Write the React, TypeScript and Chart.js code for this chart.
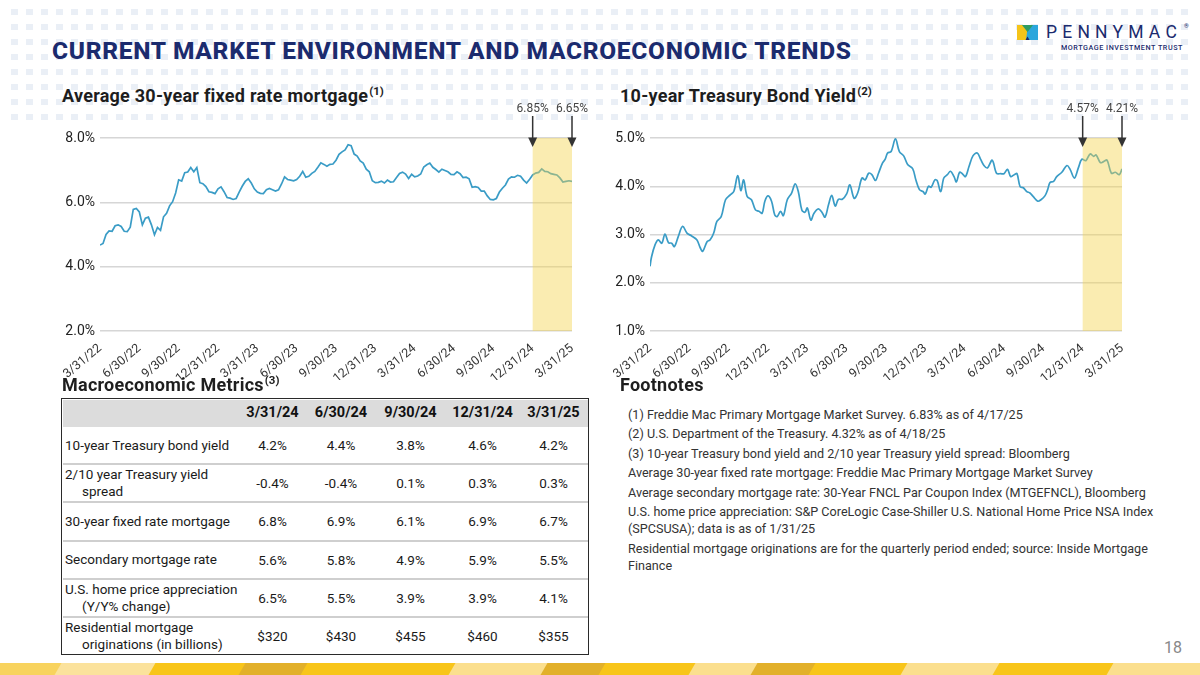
import React, { useEffect, useRef } from "react";
import { Chart, registerables } from "chart.js";

Chart.register(...registerables);

// ---------------- DATA ----------------
const QUARTER_LABELS = [
  "3/31/22", "6/30/22", "9/30/22", "12/31/22", "3/31/23", "6/30/23", "9/30/23",
  "12/31/23", "3/31/24", "6/30/24", "9/30/24", "12/31/24", "3/31/25",
];

// Weekly average 30-year fixed rate mortgage (%), 3/31/22 .. 3/27/25 (one value per week)
const MORTGAGE_RATE = [
  4.67, 4.72, 5.0, 5.11, 5.1, 5.27, 5.3, 5.25, 5.1, 5.09, 5.23, 5.78, 5.81, 5.7, 5.3, 5.51, 5.54, 5.3, 4.99, 5.22,
  5.13, 5.55, 5.66, 5.89, 6.02, 6.29, 6.7, 6.66, 6.92, 6.94, 7.08, 6.95, 7.08, 6.61, 6.58, 6.49, 6.33, 6.31, 6.27, 6.42,
  6.48, 6.33, 6.15, 6.13, 6.09, 6.12, 6.32, 6.5, 6.65, 6.73, 6.6, 6.42, 6.32, 6.28, 6.27, 6.39, 6.43, 6.39, 6.35, 6.39,
  6.57, 6.79, 6.71, 6.69, 6.67, 6.71, 6.81, 6.96, 6.78, 6.81, 6.9, 6.96, 7.09, 7.23, 7.18, 7.12, 7.18, 7.19, 7.31, 7.49,
  7.57, 7.63, 7.79, 7.76, 7.5, 7.44, 7.29, 7.22, 7.03, 6.95, 6.67, 6.61, 6.62, 6.66, 6.6, 6.69, 6.63, 6.64, 6.77, 6.9,
  6.94, 6.88, 6.74, 6.87, 6.79, 6.82, 6.88, 7.1, 7.17, 7.22, 7.09, 7.02, 6.94, 7.03, 6.99, 6.95, 6.87, 6.86, 6.95, 6.89,
  6.77, 6.78, 6.73, 6.47, 6.49, 6.46, 6.35, 6.35, 6.2, 6.09, 6.08, 6.12, 6.32, 6.44, 6.54, 6.72, 6.79, 6.78, 6.84, 6.81,
  6.69, 6.6, 6.72, 6.85, 6.91, 6.93, 7.04, 6.96, 6.95, 6.89, 6.87, 6.85, 6.76, 6.63, 6.65, 6.67, 6.65,
];
const WEEKS_PER_QUARTER = 13;
const MORTGAGE_MARKERS = ["6.85%", "6.65%"];

// 10-year Treasury bond yield (%), position in quarters since 3/31/22
const TREASURY_X = [
  0, 0.04, 0.13, 0.21, 0.3, 0.38, 0.47, 0.55, 0.62, 0.72, 0.83, 0.94, 1.06, 1.19, 1.28, 1.34, 1.45, 1.53, 1.62, 1.7,
  1.81, 1.92, 2.04, 2.13, 2.23, 2.31, 2.38, 2.47, 2.58, 2.68, 2.77, 2.85, 2.92, 3.0, 3.09, 3.17, 3.23, 3.32, 3.39, 3.49,
  3.6, 3.69, 3.77, 3.86, 3.94, 4.0, 4.09, 4.17, 4.28, 4.37, 4.45, 4.54, 4.62, 4.71, 4.79, 4.89, 5.0, 5.08, 5.19, 5.28,
  5.39, 5.47, 5.56, 5.64, 5.73, 5.81, 5.91, 5.98,
  6.04, 6.13, 6.24, 6.34, 6.45, 6.55, 6.68, 6.76, 6.85, 6.94, 7.0, 7.08, 7.15, 7.24, 7.3, 7.39, 7.47, 7.56, 7.64, 7.73,
  7.79, 7.87, 7.94, 8.02, 8.11, 8.21, 8.32, 8.41, 8.49, 8.58, 8.7, 8.81, 8.92, 9.0, 9.09, 9.17, 9.26, 9.33, 9.41, 9.49,
  9.58, 9.66, 9.74, 9.86, 9.94, 10.04, 10.11, 10.17, 10.26, 10.34, 10.47, 10.6, 10.68, 10.79, 10.89, 10.98, 11.08, 11.19, 11.28, 11.34,
  11.45, 11.53, 11.62, 11.73, 11.83, 11.93, 12.0,
];
const TREASURY_YIELD = [
  2.34, 2.54, 2.79, 2.89, 2.82, 3.01, 2.83, 2.82, 2.75, 2.96, 3.17, 3.03, 2.97, 2.89, 2.72, 2.65, 2.85, 2.89, 3.03, 3.27,
  3.37, 3.72, 3.82, 3.89, 4.22, 3.91, 4.13, 3.79, 3.72, 3.51, 3.48, 3.44, 3.69, 3.8, 3.69, 3.41, 3.37, 3.48, 3.39, 3.72,
  3.86, 4.05, 3.89, 3.51, 3.46, 3.55, 3.3, 3.44, 3.53, 3.46, 3.36, 3.62, 3.81, 3.59, 3.73, 3.73, 3.84, 4.03, 3.75, 3.86,
  4.17, 4.13, 4.27, 4.24, 4.12, 4.27, 4.48, 4.56,
  4.69, 4.72, 4.98, 4.72, 4.63, 4.45, 4.36, 4.13, 3.93, 3.89, 3.84, 4.0, 3.98, 4.13, 4.12, 3.89, 4.17, 4.24, 4.31, 4.2,
  4.09, 4.29, 4.26, 4.2, 4.41, 4.63, 4.69, 4.55, 4.43, 4.38, 4.54, 4.27, 4.26, 4.26, 4.35, 4.2, 4.24, 4.26, 3.99, 3.97,
  3.89, 3.86, 3.79, 3.69, 3.72, 3.8, 3.93, 4.08, 4.1, 4.2, 4.29, 4.43, 4.35, 4.17, 4.38, 4.56, 4.53, 4.67, 4.62, 4.65,
  4.49, 4.51, 4.54, 4.27, 4.29, 4.24, 4.36,
];
const TREASURY_MARKERS = ["4.57%", "4.21%"];

// Macroeconomic metrics table
const TABLE_DATES = ["3/31/24", "6/30/24", "9/30/24", "12/31/24", "3/31/25"];
const METRIC_LABELS = [
  ["10-year Treasury bond yield"],
  ["2/10 year Treasury yield", "spread"],
  ["30-year fixed rate mortgage"],
  ["Secondary mortgage rate"],
  ["U.S. home price appreciation", "(Y/Y% change)"],
  ["Residential mortgage", "originations (in billions)"],
];
const TEN_YEAR_YIELD = [4.2, 4.4, 3.8, 4.6, 4.2];
const YIELD_SPREAD = [-0.4, -0.4, 0.1, 0.3, 0.3];
const FIXED_MORTGAGE = [6.8, 6.9, 6.1, 6.9, 6.7];
const SECONDARY_RATE = [5.6, 5.8, 4.9, 5.9, 5.5];
const HOME_PRICE_APPRECIATION = [6.5, 5.5, 3.9, 3.9, 4.1];
const ORIGINATIONS_BN = [320, 430, 455, 460, 355];

const FOOTNOTES = [
  "(1) Freddie Mac Primary Mortgage Market Survey. 6.83% as of 4/17/25",
  "(2) U.S. Department of the Treasury. 4.32% as of 4/18/25",
  "(3) 10-year Treasury bond yield and 2/10 year Treasury yield spread: Bloomberg",
  "Average 30-year fixed rate mortgage: Freddie Mac Primary Mortgage Market Survey",
  "Average secondary mortgage rate: 30-Year FNCL Par Coupon Index (MTGEFNCL), Bloomberg",
  "U.S. home price appreciation: S&P CoreLogic Case-Shiller U.S. National Home Price NSA Index (SPCSUSA); data is as of 1/31/25",
  "Residential mortgage originations are for the quarterly period ended; source: Inside Mortgage Finance",
];

// ---------------- STYLE ----------------
const LINE_COLOR = "#3a9cc6";
const GRID_COLOR = "#d6d6d6";
const NAVY = "#1b2b6e";

const bandPlugin = {
  id: "highlightBand",
  afterDatasetsDraw(chart: any, _args: any, opts: any) {
    const { ctx, chartArea } = chart;
    const x = chart.scales.x;
    const x0 = x.getPixelForValue(opts.from);
    const x1 = x.getPixelForValue(opts.to);
    ctx.save();
    ctx.fillStyle = "rgba(243, 212, 78, 0.44)";
    ctx.fillRect(x0, chartArea.top, x1 - x0, chartArea.bottom - chartArea.top);
    [x0, x1].forEach((px: number, i: number) => {
      ctx.strokeStyle = "#333";
      ctx.lineWidth = 1.5;
      ctx.beginPath();
      ctx.moveTo(px, chartArea.top - 22);
      ctx.lineTo(px, chartArea.top + 2);
      ctx.stroke();
      ctx.fillStyle = "#333";
      ctx.beginPath();
      ctx.moveTo(px - 4.5, chartArea.top - 0.5);
      ctx.lineTo(px + 4.5, chartArea.top - 0.5);
      ctx.lineTo(px, chartArea.top + 9);
      ctx.closePath();
      ctx.fill();
      ctx.font = "12px Roboto";
      ctx.textAlign = "center";
      ctx.textBaseline = "alphabetic";
      ctx.fillStyle = "#444";
      ctx.fillText(opts.labels[i], px, chartArea.top - 26);
    });
    ctx.restore();
  },
};

function makeConfig(
  points: { x: number; y: number }[],
  xMax: number,
  xStep: number,
  yMin: number,
  yMax: number,
  yStep: number,
  tension: number,
  band: { from: number; to: number; labels: string[] }
): any {
  return {
    type: "line",
    data: {
      datasets: [
        {
          data: points,
          borderColor: LINE_COLOR,
          borderWidth: 1.7,
          pointRadius: 0,
          tension,
          fill: false,
        },
      ],
    },
    plugins: [bandPlugin],
    options: {
      animation: false,
      responsive: false,
      maintainAspectRatio: false,
      layout: { padding: { top: 43, right: 18, left: 0, bottom: 0 } },
      plugins: {
        legend: { display: false },
        tooltip: { enabled: false },
        highlightBand: band,
      },
      scales: {
        x: {
          type: "linear",
          min: 0,
          max: xMax,
          grid: { display: false },
          border: { display: false },
          afterFit: (s: any) => {
            s.height = 49;
          },
          ticks: {
            stepSize: xStep,
            autoSkip: false,
            minRotation: 40,
            maxRotation: 40,
            padding: 2,
            color: "#333",
            font: { family: "Roboto", size: 12.5 },
            callback: (v: number) => QUARTER_LABELS[Math.round(v / xStep)] ?? "",
          },
        },
        y: {
          min: yMin,
          max: yMax,
          grid: { color: GRID_COLOR, lineWidth: 1.5, drawTicks: false },
          border: { display: false },
          afterFit: (s: any) => {
            s.width = 45;
          },
          ticks: {
            stepSize: yStep,
            padding: 5,
            color: "#222",
            font: { family: "Roboto", size: 14 },
            callback: (v: number) => v.toFixed(1) + "%",
          },
        },
      },
    },
  };
}

function LineChart({ config, style }: { config: any; style: React.CSSProperties }) {
  const ref = useRef<HTMLCanvasElement>(null);
  useEffect(() => {
    if (!ref.current) return;
    const chart = new Chart(ref.current, config);
    return () => chart.destroy();
  }, [config]);
  return (
    <div style={{ position: "absolute", ...style }}>
      <canvas ref={ref} width={style.width as number} height={style.height as number} />
    </div>
  );
}

const pct = (v: number) => v.toFixed(1) + "%";
const usd = (v: number) => "$" + v;
const TABLE_ROWS: string[][] = [
  TEN_YEAR_YIELD.map(pct),
  YIELD_SPREAD.map(pct),
  FIXED_MORTGAGE.map(pct),
  SECONDARY_RATE.map(pct),
  HOME_PRICE_APPRECIATION.map(pct),
  ORIGINATIONS_BN.map(usd),
];

const mortgagePoints = MORTGAGE_RATE.map((y, i) => ({ x: i, y }));
const treasuryPoints = TREASURY_X.map((x, i) => ({ x, y: TREASURY_YIELD[i] }));
const lastWeek = MORTGAGE_RATE.length - 1;

const leftConfig = makeConfig(mortgagePoints, lastWeek, WEEKS_PER_QUARTER, 2, 8, 2, 0, {
  from: 11 * WEEKS_PER_QUARTER,
  to: lastWeek,
  labels: MORTGAGE_MARKERS,
});
const rightConfig = makeConfig(treasuryPoints, 12, 1, 1, 5, 1, 0.35, {
  from: 11,
  to: 12,
  labels: TREASURY_MARKERS,
});

const dotPattern =
  "url(\"data:image/svg+xml;utf8,<svg xmlns='http://www.w3.org/2000/svg' width='15' height='15'><rect x='3' y='4' width='7' height='6' fill='%23eaeff6'/></svg>\")";

const STRIPE = [
  { x: -10, w: 68, c: "#f8d35e" },
  { x: 58, w: 94, c: "#fbe29c" },
  { x: 152, w: 90, c: "#f8c51a" },
  { x: 242, w: 62, c: "#e2b02a" },
  { x: 304, w: 148, c: "#f8c51a" },
  { x: 452, w: 92, c: "#fbdf8e" },
  { x: 544, w: 58, c: "#e2b02a" },
  { x: 602, w: 90, c: "#f8c51a" },
  { x: 692, w: 62, c: "#fbdf8e" },
  { x: 754, w: 58, c: "#e2b02a" },
  { x: 812, w: 92, c: "#f8c51a" },
  { x: 904, w: 92, c: "#fbdf8e" },
  { x: 996, w: 114, c: "#f8c51a" },
  { x: 1110, w: 110, c: "#fbdf8e" },
];

const Sup = ({ children }: { children: React.ReactNode }) => (
  <span style={{ fontSize: 11.5, position: "relative", top: -7, marginLeft: 1, letterSpacing: 0 }}>{children}</span>
);

const sectionTitle: React.CSSProperties = {
  position: "absolute",
  fontSize: 18,
  fontWeight: 700,
  lineHeight: "20px",
  whiteSpace: "nowrap",
  letterSpacing: 0.25,
  color: "#1e1e1e",
};

export default function App() {
  const colLeft = [62, 238, 307, 375, 446, 519];
  const colW = [176, 69, 68, 71, 73, 69];
  return (
    <div
      style={{
        position: "absolute",
        left: 0,
        top: 0,
        width: 1200,
        height: 675,
        overflow: "hidden",
        background: "#fff",
        fontFamily: "Roboto, 'Noto Sans', sans-serif",
        color: "#222",
      }}
    >
      <div
        style={{
          position: "absolute",
          left: 8,
          top: 5,
          width: 1184,
          height: 123,
          backgroundImage: dotPattern,
          backgroundRepeat: "repeat",
        }}
      />
      {/* Title */}
      <div
        style={{
          position: "absolute",
          left: 52,
          top: 37,
          fontSize: 24.5,
          fontWeight: 800,
          lineHeight: "28px",
          color: NAVY,
          letterSpacing: 0.7,
          whiteSpace: "nowrap",
        }}
      >
        CURRENT MARKET ENVIRONMENT AND MACROECONOMIC TRENDS
      </div>
      {/* Logo */}
      <svg style={{ position: "absolute", left: 1017, top: 25 }} width="21" height="15" viewBox="0 0 21 15">
        <rect x="0" y="0" width="21" height="15" fill="#f5c419" />
        <polygon points="11,0 21,0 21,15 9,15" fill="#2ba6dc" />
        <polygon points="5,0 16,0 10.5,7" fill="#2f9b63" />
        <polygon points="8.5,15 10.5,11.5 12.5,15" fill="#1b2b6e" />
      </svg>
      <div
        style={{
          position: "absolute",
          left: 1046,
          top: 21,
          fontSize: 17.5,
          letterSpacing: 5.2,
          color: NAVY,
          fontWeight: 400,
          lineHeight: "22px",
          whiteSpace: "nowrap",
        }}
      >
        PENNYMAC
      </div>
      <div style={{ position: "absolute", left: 1184, top: 22, fontSize: 6, color: NAVY }}>®</div>
      <div
        style={{
          position: "absolute",
          left: 1061,
          top: 43,
          fontSize: 7.2,
          letterSpacing: 0.55,
          color: NAVY,
          fontWeight: 500,
          whiteSpace: "nowrap",
        }}
      >
        MORTGAGE INVESTMENT TRUST
      </div>

      {/* Chart titles */}
      <div style={{ ...sectionTitle, left: 62, top: 86 }}>
        Average 30-year fixed rate mortgage<Sup>(1)</Sup>
      </div>
      <div style={{ ...sectionTitle, left: 620, top: 86 }}>
        10-year Treasury Bond Yield<Sup>(2)</Sup>
      </div>

      <LineChart config={leftConfig} style={{ left: 55, top: 95, width: 535, height: 285 }} />
      <LineChart config={rightConfig} style={{ left: 605, top: 95, width: 535, height: 285 }} />

      {/* Section titles */}
      <div style={{ ...sectionTitle, left: 62, top: 375 }}>
        Macroeconomic Metrics<Sup>(3)</Sup>
      </div>
      <div style={{ ...sectionTitle, left: 620, top: 375 }}>Footnotes</div>

      {/* Table */}
      <div
        style={{
          position: "absolute",
          left: 61,
          top: 398,
          width: 528,
          height: 257,
          border: "1.5px solid #2a2a2a",
          boxSizing: "border-box",
        }}
      />
      <div style={{ position: "absolute", left: 62.5, top: 399.5, width: 525, height: 27, background: "#dcdcdc" }} />
      {TABLE_DATES.map((d, j) => (
        <div
          key={d}
          style={{
            position: "absolute",
            left: colLeft[j + 1],
            top: 399,
            width: colW[j + 1],
            lineHeight: "28px",
            textAlign: "center",
            fontWeight: 700,
            fontSize: 14.5,
            color: "#111",
          }}
        >
          {d}
        </div>
      ))}
      {METRIC_LABELS.map((lab, i) => {
        const top = 426 + i * 38.2;
        return (
          <React.Fragment key={i}>
            {i > 0 && (
              <div style={{ position: "absolute", left: 62.5, top: top - 1, width: 525, height: 2, background: "#cfcfcf" }} />
            )}
            <div
              style={{
                position: "absolute",
                left: 65,
                top,
                height: 38,
                width: 175,
                display: "flex",
                flexDirection: "column",
                justifyContent: "center",
                fontSize: 13.5,
                lineHeight: "17px",
                color: "#1a1a1a",
              }}
            >
              {lab.map((t, k) => (
                <div key={k} style={{ paddingLeft: k > 0 ? 17 : 0, whiteSpace: "nowrap" }}>
                  {t}
                </div>
              ))}
            </div>
            {TABLE_ROWS[i].map((v, j) => (
              <div
                key={j}
                style={{
                  position: "absolute",
                  left: colLeft[j + 1],
                  top,
                  width: colW[j + 1],
                  lineHeight: "38px",
                  textAlign: "center",
                  fontSize: 13.5,
                  color: "#1a1a1a",
                }}
              >
                {v}
              </div>
            ))}
          </React.Fragment>
        );
      })}

      {/* Footnotes */}
      <div style={{ position: "absolute", left: 628, top: 405.5, width: 535, fontSize: 12.6, lineHeight: "17px", color: "#333" }}>
        {FOOTNOTES.map((f, i) => (
          <div key={i} style={{ marginBottom: 2.5 }}>
            {f}
          </div>
        ))}
      </div>

      <div style={{ position: "absolute", left: 1164, top: 638, fontSize: 16, color: "#888" }}>18</div>

      {/* Bottom stripe */}
      <div style={{ position: "absolute", left: 0, top: 663, width: 1200, height: 12, overflow: "hidden" }}>
        {STRIPE.map((s, i) => (
          <div
            key={i}
            style={{
              position: "absolute",
              left: s.x,
              top: 0,
              width: s.w + 1,
              height: 12,
              background: s.c,
              transform: "skewX(-30deg)",
            }}
          />
        ))}
      </div>
    </div>
  );
}
